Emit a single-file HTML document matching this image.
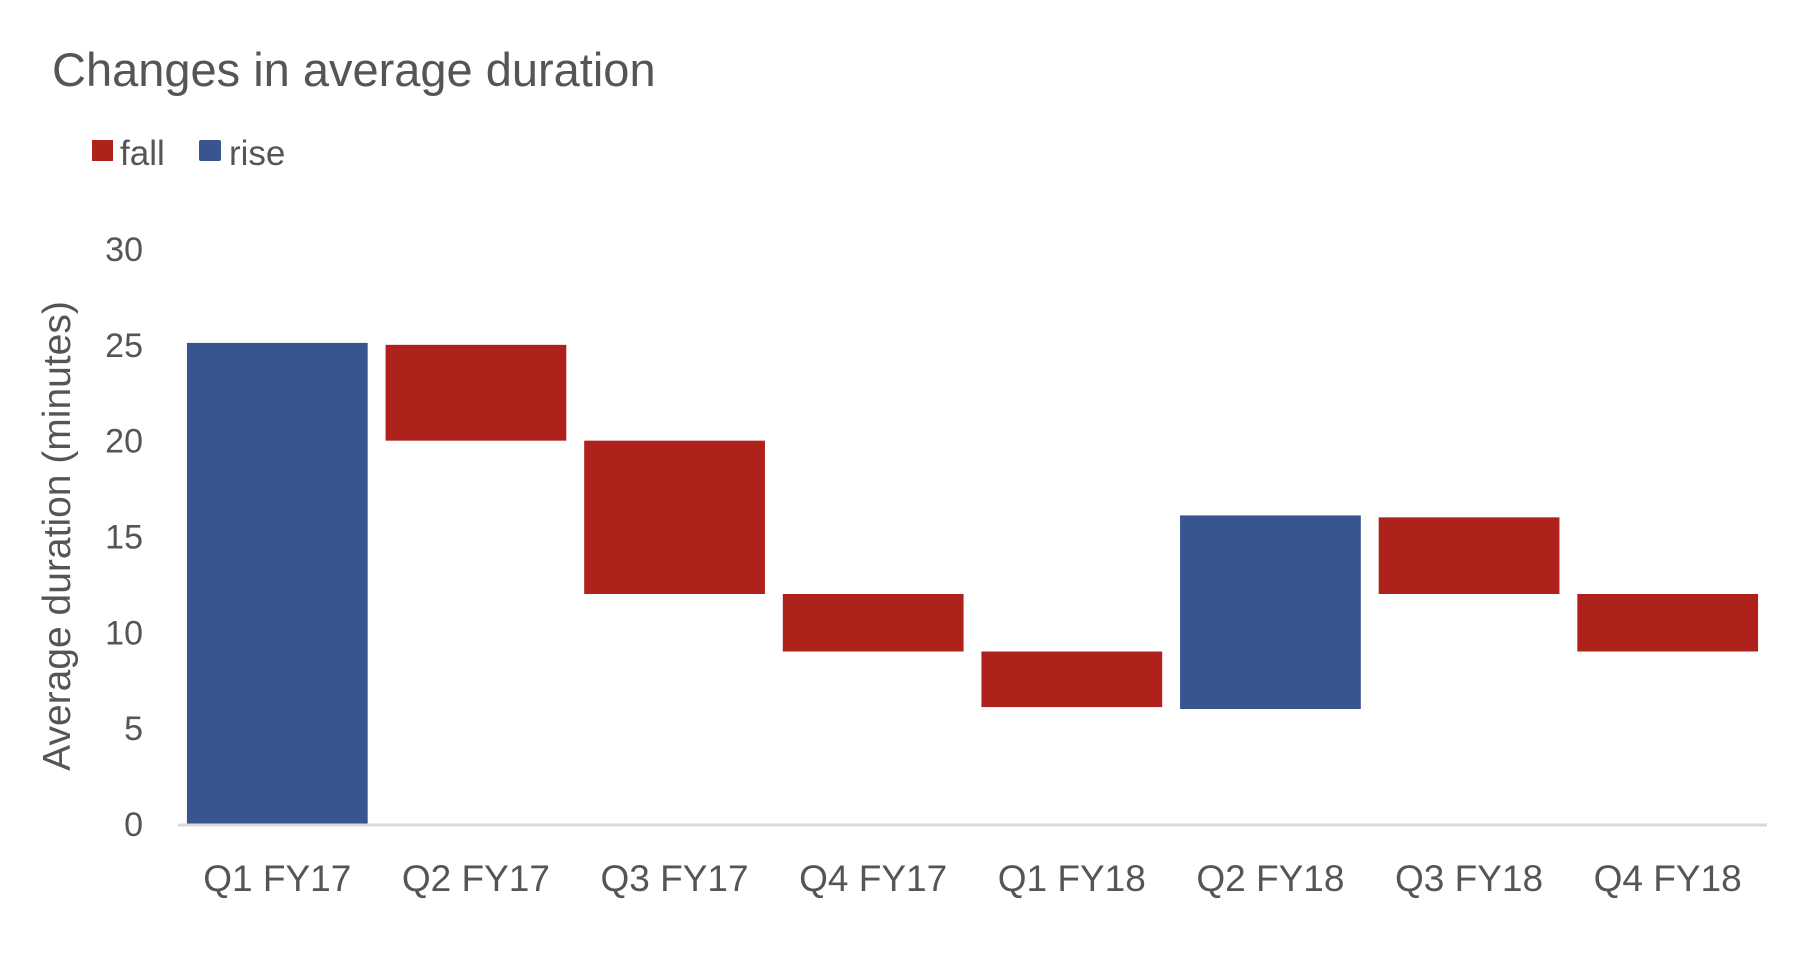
<!DOCTYPE html>
<html><head><meta charset="utf-8"><style>
html,body{margin:0;padding:0;background:#fff;}
svg{display:block;font-family:"Liberation Sans",Arial,sans-serif;}
</style></head><body>
<svg id="chart" width="1804" height="964" viewBox="0 0 1804 964">
  <text x="52" y="86" font-size="47" fill="#555">Changes in average duration</text>
  <g>
    <rect x="92" y="140" width="21" height="21" fill="#ae221b"/>
    <text x="120" y="165" font-size="35" fill="#555">fall</text>
    <rect x="199" y="140" width="22" height="21" rx="2" fill="#38558f"/>
    <text x="229" y="165" font-size="35" fill="#555">rise</text>
  </g>
  <text transform="translate(70,536) rotate(-90)" text-anchor="middle" font-size="39" fill="#555">Average duration (minutes)</text>
  <g id="yticks"></g>
  <g id="bars"></g>
  <line x1="178" y1="825" x2="1767" y2="825" stroke="#d9d9d9" stroke-width="3"/>
  <g id="xticks"></g>
</svg>
<script>
const categories = ["Q1 FY17","Q2 FY17","Q3 FY17","Q4 FY17","Q1 FY18","Q2 FY18","Q3 FY18","Q4 FY18"];
const startValues = [0, 25, 20, 12, 9, 6, 16, 12];
const endValues = [25.1, 20, 12, 9, 6.1, 16.1, 12, 9];
const yTicks = [0, 5, 10, 15, 20, 25, 30];

const NS = "http://www.w3.org/2000/svg";
const plotLeft = 178, plotRight = 1767, y0 = 824, yMax = 30, yTop = 249;
const band = (plotRight - plotLeft) / categories.length;
function yScale(v){ return y0 - (v / yMax) * (y0 - yTop); }
function xCenter(i){ return plotLeft + band * (i + 0.5); }

const yg = document.getElementById('yticks');
yTicks.forEach(t => {
  const el = document.createElementNS(NS, 'text');
  el.setAttribute('x', 143);
  el.setAttribute('y', yScale(t) + 12);
  el.setAttribute('text-anchor', 'end');
  el.setAttribute('font-size', '34');
  el.setAttribute('fill', '#555');
  el.textContent = t;
  
  
  yg.appendChild(el);
});

const bg = document.getElementById('bars');
const bw = band * 0.91;
categories.forEach((c, i) => {
  const s = startValues[i], e = endValues[i];
  const r = document.createElementNS(NS, 'rect');
  const top = yScale(Math.max(s, e)), bot = yScale(Math.min(s, e));
  r.setAttribute('x', xCenter(i) - bw / 2);
  r.setAttribute('y', top);
  r.setAttribute('width', bw);
  r.setAttribute('height', bot - top);
  r.setAttribute('fill', e >= s ? '#38558f' : '#ae221b');
  
  
  bg.appendChild(r);
});

const xg = document.getElementById('xticks');
categories.forEach((c, i) => {
  const el = document.createElementNS(NS, 'text');
  el.setAttribute('x', xCenter(i));
  el.setAttribute('y', 891);
  el.setAttribute('text-anchor', 'middle');
  el.setAttribute('font-size', '37');
  el.setAttribute('fill', '#555');
  el.textContent = c;
  
  
  xg.appendChild(el);
});
</script>
</body></html>
